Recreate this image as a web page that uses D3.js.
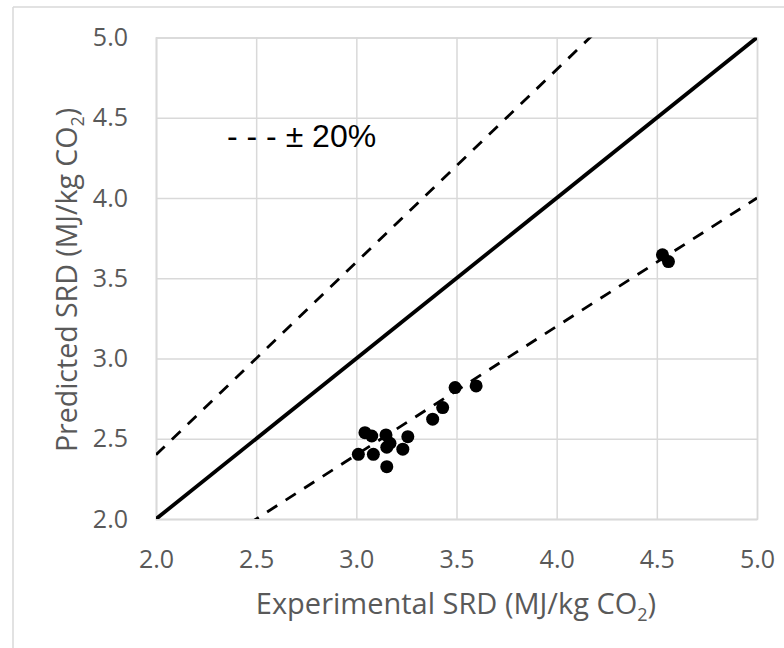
<!DOCTYPE html>
<html><head><meta charset="utf-8">
<script src="https://cdn.jsdelivr.net/npm/d3@7"></script>
<style>body{margin:0;background:#fff}svg{display:block}</style>
</head><body>
<svg id="c" width="784" height="648"></svg>
<script>
const expSRD = [3.010, 3.043, 3.077, 3.085, 3.148, 3.152, 3.168, 3.152, 3.232, 3.257, 3.381, 3.431, 3.493, 3.598, 4.528, 4.558];
const predSRD = [2.403, 2.538, 2.517, 2.403, 2.524, 2.447, 2.472, 2.326, 2.435, 2.513, 2.622, 2.694, 2.819, 2.829, 3.646, 3.604];
const tickValues = [2.0, 2.5, 3.0, 3.5, 4.0, 4.5, 5.0];
const parityFactors = [1.0];
const bandFactors = [1.2, 0.8];
const legendText = "- - - \u00b1 20%";

const svg = d3.select("#c");
const L = 156, R = 757, T = 37.5, B = 519;
const x = d3.scaleLinear().domain([2, 5]).range([L, R]);
const y = d3.scaleLinear().domain([2, 5]).range([B, T]);
const grid = "#d9d9d9", txt = "#595959";

// outer border (top & left only visible)
svg.append("line").attr("x1", 13).attr("y1", 7).attr("x2", 784).attr("y2", 7).attr("stroke", grid).attr("stroke-width", 1.5);
svg.append("line").attr("x1", 13).attr("y1", 7).attr("x2", 13).attr("y2", 648).attr("stroke", grid).attr("stroke-width", 1.5);

// gridlines
const xAxis = d3.axisBottom(x).tickValues(tickValues).tickFormat(d3.format(".1f")).tickSize(-(B - T)).tickPadding(31);
const yAxis = d3.axisLeft(y).tickValues(tickValues).tickFormat(d3.format(".1f")).tickSize(-(R - L)).tickPadding(28);
const gx = svg.append("g").attr("transform", `translate(0,${B})`).call(xAxis);
const gy = svg.append("g").attr("transform", `translate(${L},0)`).call(yAxis);
[gx, gy].forEach(g => {
  g.select(".domain").attr("stroke", grid).attr("stroke-width", 1.5);
  g.selectAll(".tick line").attr("stroke", grid).attr("stroke-width", 1.5);
  g.selectAll(".tick text").attr("fill", txt).attr("font-family", "'Open Sans', sans-serif").attr("font-size", 25);
});
gx.selectAll(".tick text").attr("dy", "0.71em");

const clipId = "clipPlot";
svg.append("clipPath").attr("id", clipId).append("rect").attr("x", L).attr("y", T).attr("width", R - L).attr("height", B - T);
const pl = svg.append("g").attr("clip-path", `url(#${clipId})`);
const lineGen = d3.line().x(d => x(d[0])).y(d => y(d[1]));
parityFactors.forEach(f => {
  pl.append("path").attr("d", lineGen([[2, 2 * f], [5, 5 * f]])).attr("stroke", "#000").attr("stroke-width", 3.8).attr("fill", "none");
});
bandFactors.forEach(f => {
  pl.append("path").attr("d", lineGen([[2, 2 * f], [5, 5 * f]])).attr("stroke", "#000").attr("stroke-width", 2.8)
    .attr("stroke-dasharray", "12,10").attr("fill", "none");
});

svg.append("g").selectAll("circle").data(expSRD.map((v, i) => [v, predSRD[i]])).join("circle")
  .attr("cx", d => x(d[0])).attr("cy", d => y(d[1])).attr("r", 6.5).attr("fill", "#000");

// legend text
svg.append("text").attr("x", 227).attr("y", 147).attr("font-family", "'Liberation Sans', Arial, sans-serif")
  .attr("font-size", 32).attr("fill", "#000").attr("xml:space", "preserve").text(legendText);

// axis titles
const xt = svg.append("text").attr("x", 456).attr("y", 614).attr("text-anchor", "middle")
  .attr("font-family", "'Open Sans', sans-serif").attr("font-size", 29).attr("fill", txt);
xt.append("tspan").text("Experimental SRD (MJ/kg CO");
xt.append("tspan").attr("font-size", 18).attr("dy", 7).text("2");
xt.append("tspan").attr("dy", -7).text(")");

const yt = svg.append("text").attr("transform", `translate(77,280) rotate(-90)`).attr("text-anchor", "middle")
  .attr("font-family", "'Open Sans', sans-serif").attr("font-size", 28.5).attr("fill", txt);
yt.append("tspan").text("Predicted SRD (MJ/kg CO");
yt.append("tspan").attr("font-size", 18).attr("dy", 7).text("2");
yt.append("tspan").attr("dy", -7).text(")");
</script>
</body></html>
